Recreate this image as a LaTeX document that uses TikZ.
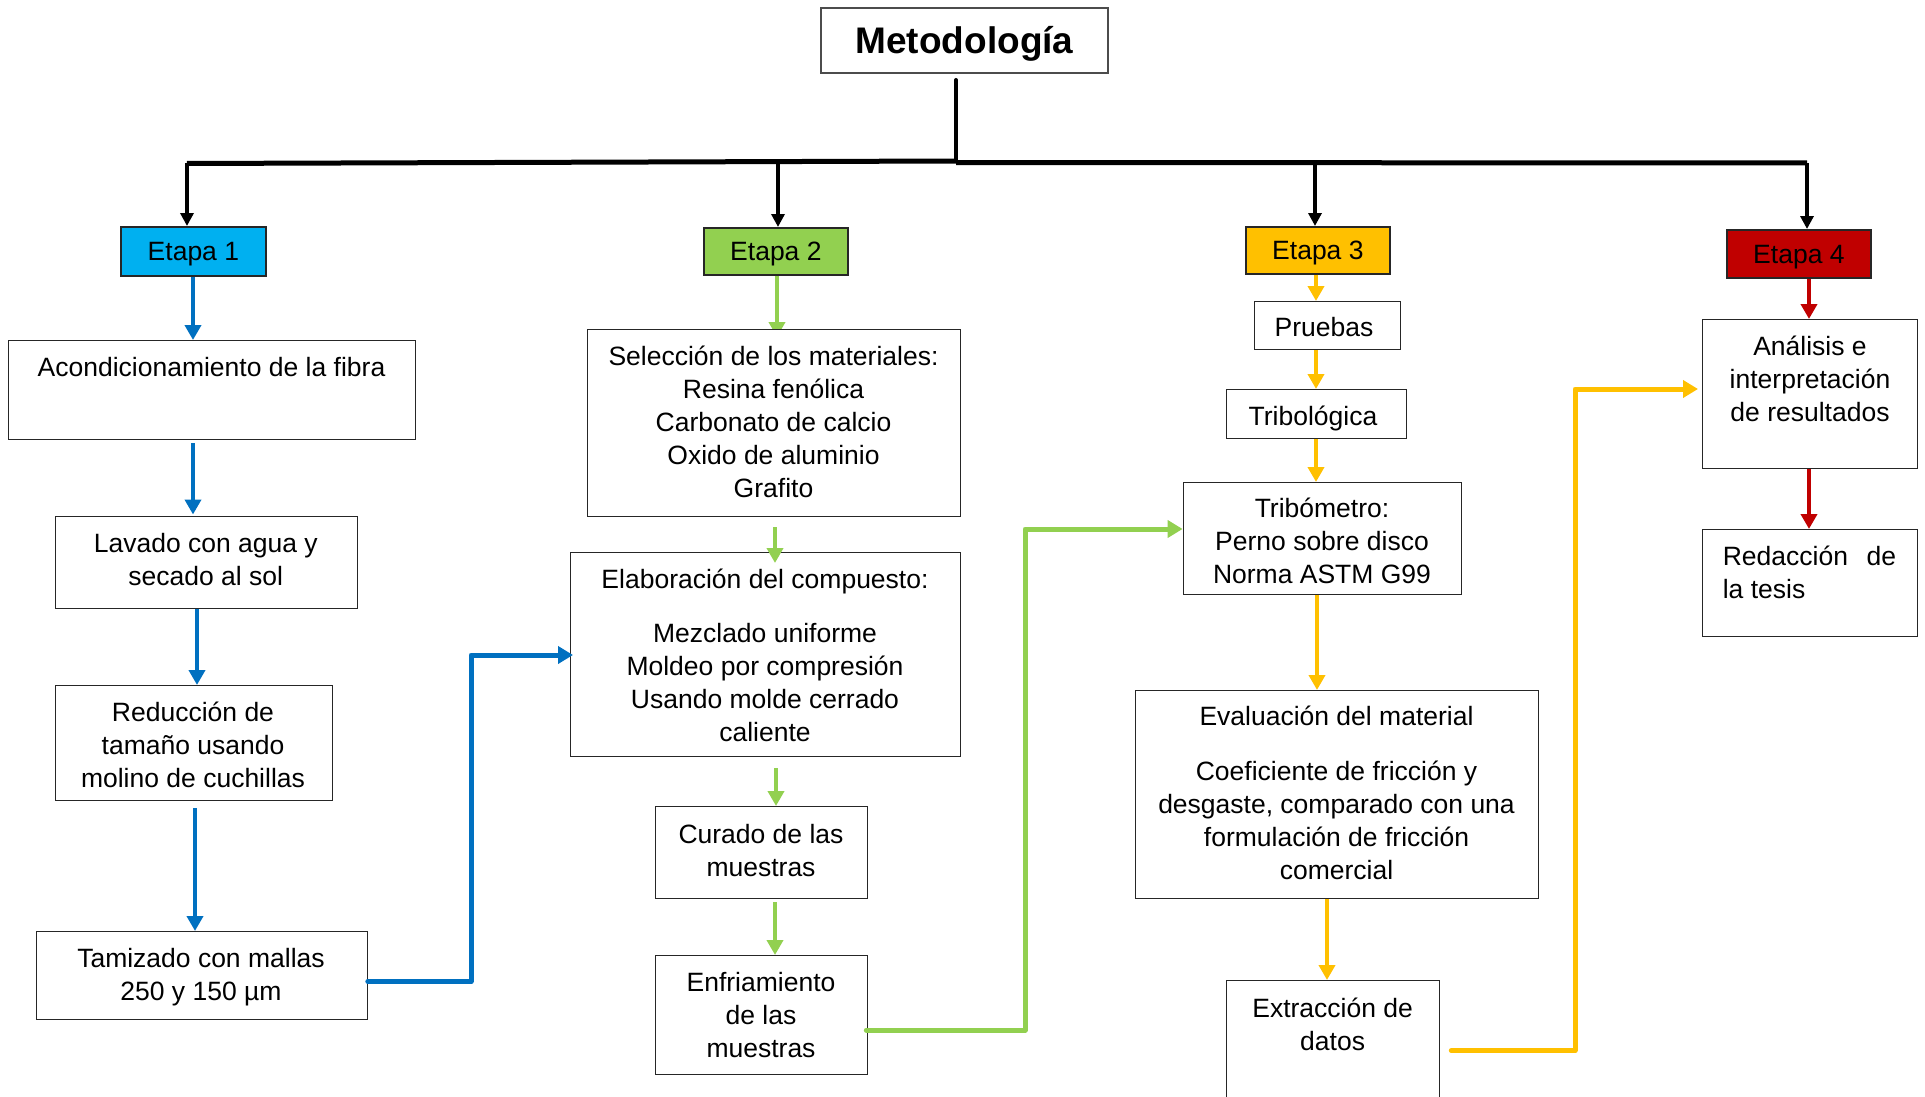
\documentclass[tikz,border=0pt]{standalone}
\usepackage{fontspec}
\setmainfont{Liberation Sans}
\usetikzlibrary{arrows.meta,calc,backgrounds}
\definecolor{eblue}{HTML}{00B0F0}
\definecolor{abl}{HTML}{0070C0}
\definecolor{grn}{HTML}{92D050}
\definecolor{ylw}{HTML}{FFC000}
\definecolor{rd}{HTML}{C00000}
\newcommand\fs{\fontsize{26.5}{33}\selectfont}
\begin{document}
\begin{tikzpicture}[x=1pt,y=-1pt,
 box/.style={draw=black!85, line width=1.3pt, fill=white, inner sep=0pt, anchor=north west},
 etapa/.style={draw=black!85, line width=1.8pt, inner sep=0pt, anchor=north west, font=\fs, text height=19pt, text depth=0pt},
 txt/.style={inner sep=0pt, anchor=north, align=center, font=\fs},
 arr/.style={line width=4.5pt, -{Triangle[length=15pt,width=16pt]}},
 elbow/.style={line width=5pt, line cap=round, line join=round, -{Triangle[length=15pt,width=17pt]}},
 blk/.style={line width=3.5pt, -{Triangle[length=13pt,width=13pt]}}
]
\useasboundingbox (0,0) rectangle (1925,1097);
\clip (0,0) rectangle (1925,1097);

% title
\node[box, draw=black!70, line width=2pt, minimum width=287pt, minimum height=65pt] (title) at (820,7) {};
\node[inner sep=0pt, font=\bfseries\fontsize{37}{44}\selectfont, text height=26.5pt, text depth=0pt] (title-t) at (title.center) {Metodología};

% stages
\node[etapa, fill=eblue, minimum width=145pt, minimum height=49pt] (e1) at (120,226) {Etapa 1};
\node[etapa, fill=grn, minimum width=144pt, minimum height=47pt] (e2) at (703,227) {Etapa 2};
\node[etapa, fill=ylw, minimum width=144pt, minimum height=47pt] (e3) at (1245,226) {Etapa 3};
\node[etapa, fill=rd, minimum width=144pt, minimum height=48pt] (e4) at (1726,229) {Etapa 4};

% column 1
\node[box, minimum width=407pt, minimum height=99pt] (acond) at (8,340) {};
\node[txt] (acond-t) at (211.5,352.9) {\strut Acondicionamiento de la fibra};
\node[box, minimum width=302.5pt, minimum height=92pt] (lav) at (54.5,515.5) {};
\node[txt] (lav-t) at (205.8,529.6) {\strut Lavado con agua y\\secado al sol};
\node[box, minimum width=277.5pt, minimum height=115pt] (red) at (54.5,685) {};
\node[txt] (red-t) at (193,697.9) {\strut Reducción de\\tamaño usando\\molino de cuchillas};
\node[box, minimum width=330.5pt, minimum height=88pt] (tam) at (36,931) {};
\node[txt] (tam-t) at (201,944.4) {\strut Tamizado con mallas\\250 y 150 µm};

% column 2
\node[box, minimum width=373pt, minimum height=187pt] (sel) at (587,329) {};
\node[txt] (sel-t) at (773.5,341.9) {\strut Selección de los materiales:\\Resina fenólica\\Carbonato de calcio\\Oxido de aluminio\\Grafito};
\node[box, minimum width=390pt, minimum height=203.5pt] (elab) at (570,552) {};
\node[txt] (elab-t) at (765,564.9) {\strut Elaboración del compuesto:\\[21pt]Mezclado uniforme\\Moldeo por compresión\\Usando molde cerrado\\caliente};
\node[box, minimum width=212.5pt, minimum height=92pt] (cur) at (654.5,806) {};
\node[txt] (cur-t) at (761,819.9) {\strut Curado de las\\muestras};
\node[box, minimum width=212.5pt, minimum height=119pt] (enf) at (654.5,955) {};
\node[txt] (enf-t) at (761,968.4) {\strut Enfriamiento\\de las\\muestras};

% column 3
\node[box, minimum width=145.8pt, minimum height=48pt] (pru) at (1253.7,301) {};
\node[txt] (pru-t) at (1324,313.3) {\strut Pruebas};
\node[box, minimum width=180pt, minimum height=48.5pt] (trl) at (1226,389) {};
\node[txt] (trl-t) at (1313,402.5) {\strut Tribológica};
\node[box, minimum width=277.9pt, minimum height=112pt] (trm) at (1182.6,482) {};
\node[txt] (trm-t) at (1322,494.3) {\strut Tribómetro:\\Perno sobre disco\\Norma ASTM G99};
\node[box, minimum width=403.3pt, minimum height=208pt] (eva) at (1134.7,690) {};
\node[txt] (eva-t) at (1336.5,702.3) {\strut Evaluación del material\\[22pt]Coeficiente de fricción y\\desgaste, comparado con una\\formulación de fricción\\comercial};
\node[box, minimum width=213pt, minimum height=140pt] (ext) at (1226,980) {};
\node[txt] (ext-t) at (1332.6,993.9) {\strut Extracción de\\datos};

% column 4
\node[box, minimum width=215pt, minimum height=149pt] (ana) at (1702,319) {};
\node[txt] (ana-t) at (1810,331.9) {\strut Análisis e\\interpretación\\de resultados};
\node[box, minimum width=215pt, minimum height=107pt] (rdc) at (1702,529) {};
\node[txt, anchor=north west, align=left] (rdc-t) at (1722.6,541.9) {\hbox to 173.4pt{\strut Redacción\hfil de}\\la tesis};

% black tree
\coordinate (hub) at (956,161);
\coordinate (hubR) at (956,162.5);
\coordinate (b1) at (187,163.5);
\coordinate (b2) at (778,162);
\coordinate (b3) at (1315,162.5);
\coordinate (b4) at (1807,163);
\draw[line width=4pt, line cap=round] ($(hub |- title.south)+(0,6)$) -- (hub);
\draw[line width=5pt] (b1) -- (hub);
\draw[line width=5pt] (hubR) -- (b4);
\draw[blk] (b1) -- (b1 |- e1.north);
\draw[blk] (b2) -- (b2 |- e2.north);
\draw[blk] (b3) -- (b3 |- e3.north);
\draw[blk] (b4) -- (b4 |- e4.north);

% column x positions
\coordinate (cA) at (193,0);
\coordinate (cB) at (197,0);
\coordinate (cC) at (195,0);
\coordinate (gA) at (777,0);
\coordinate (gB) at (775,0);
\coordinate (gC) at (776,0);
\coordinate (yA) at (1316,0);
\coordinate (yB) at (1317,0);
\coordinate (yC) at (1327,0);
\coordinate (rA) at (1809,0);

% blue
\draw[arr, abl] (cA |- e1.south) -- (cA |- acond.north);
\draw[arr, abl, shorten <=3pt] (cA |- acond.south) -- ($(cA |- lav.north)+(0,-1)$);
\draw[arr, abl] (cB |- lav.south) -- (cB |- red.north);
\draw[arr, abl, shorten <=7pt] (cC |- red.south) -- (cC |- tam.north);
\coordinate (bj) at (471,655);
\draw[elbow, abl] ($(tam.east)+(0,6)$) -| (bj) -- ($(elab.west |- bj)+(3,0)$);

% green
\begin{scope}[on background layer]
\fill[white] (0,0) rectangle (1925,1097);
\draw[arr, grn] (gA |- e2.south) -- ($(gA |- sel.north)+(0,8)$);
\end{scope}
\draw[arr, grn, shorten <=10pt] (gB |- sel.south) -- ($(gB |- elab.north)+(0,11)$);
\draw[arr, grn, shorten <=11.5pt] (gC |- elab.south) -- (gC |- cur.north);
\draw[arr, grn, shorten <=3pt] (gB |- cur.south) -- (gB |- enf.north);
\coordinate (gj) at (1025,529);
\draw[elbow, grn] ($(enf.east)+(-2,15)$) -| (gj) -- (trm.west |- gj);

% yellow
\draw[arr, ylw] (yA |- e3.south) -- (yA |- pru.north);
\draw[arr, ylw] (yA |- pru.south) -- (yA |- trl.north);
\draw[arr, ylw] (yA |- trl.south) -- (yA |- trm.north);
\draw[arr, ylw] (yB |- trm.south) -- (yB |- eva.north);
\draw[arr, ylw] (yC |- eva.south) -- (yC |- ext.north);
\coordinate (yj) at (1575,389);
\draw[elbow, ylw] ($(ext.east)+(11,0)$) -| (yj) -- ($(ana.west |- yj)+(-4,0)$);

% red
\draw[arr, rd] (rA |- e4.south) -- (rA |- ana.north);
\draw[arr, rd] (rA |- ana.south) -- (rA |- rdc.north);
\end{tikzpicture}
\end{document}
